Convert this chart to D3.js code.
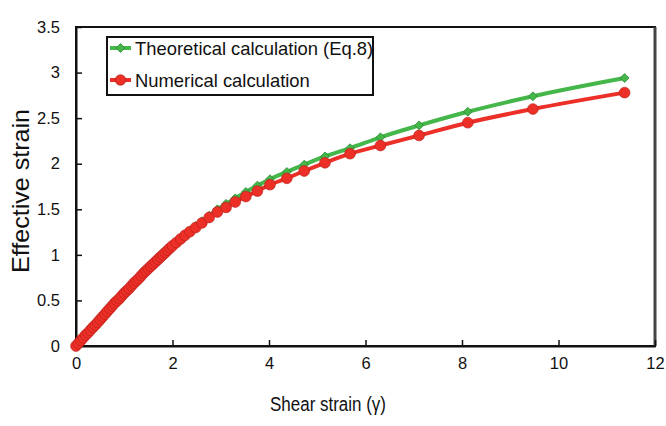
<!DOCTYPE html>
<html>
<head>
<meta charset="utf-8">
<script src="https://cdn.jsdelivr.net/npm/d3@7/dist/d3.min.js"></script>
<style>
  html, body { margin: 0; padding: 0; background: #fff; }
  svg { display: block; }
  text { font-family: "Liberation Sans", Arial, Helvetica, sans-serif; fill: #111; }
</style>
</head>
<body>
<svg id="chart" width="666" height="426"></svg>
<script>
// ---- data ----
const shearStrain = [0, 0.05, 0.1, 0.15, 0.2, 0.25, 0.3, 0.35, 0.4, 0.45, 0.5, 0.55, 0.6, 0.65, 0.7,
  0.75, 0.8, 0.85, 0.9, 0.95, 1.0, 1.05, 1.1, 1.15, 1.2, 1.25, 1.3, 1.35, 1.4, 1.45, 1.5, 1.55,
  1.6, 1.65, 1.7, 1.75, 1.8, 1.85, 1.9, 1.95, 2.0, 2.08, 2.17, 2.26, 2.36, 2.48, 2.61, 2.76, 2.93,
  3.11, 3.30, 3.52, 3.76, 4.02, 4.37, 4.73, 5.16, 5.68, 6.31, 7.11, 8.12, 9.47, 11.37];
const theoretical = [0, 0.03, 0.06, 0.09, 0.12, 0.145, 0.175, 0.205, 0.23, 0.26, 0.29, 0.32, 0.35,
  0.38, 0.41, 0.44, 0.47, 0.495, 0.52, 0.55, 0.58, 0.605, 0.63, 0.66, 0.69, 0.715, 0.74, 0.77, 0.80,
  0.825, 0.85, 0.875, 0.90, 0.925, 0.95, 0.975, 1.00, 1.025, 1.05, 1.08, 1.105, 1.14, 1.18, 1.22,
  1.265, 1.315, 1.37, 1.43, 1.50, 1.56, 1.62, 1.69, 1.76, 1.83, 1.91, 1.99, 2.08, 2.17, 2.29, 2.42,
  2.57, 2.74, 2.94];
const numerical = [0, 0.03, 0.06, 0.09, 0.12, 0.145, 0.175, 0.205, 0.23, 0.26, 0.29, 0.32, 0.35,
  0.38, 0.41, 0.44, 0.47, 0.495, 0.52, 0.55, 0.58, 0.605, 0.63, 0.66, 0.69, 0.715, 0.74, 0.77, 0.80,
  0.825, 0.85, 0.875, 0.90, 0.925, 0.95, 0.975, 1.00, 1.025, 1.05, 1.075, 1.10, 1.135, 1.175, 1.215,
  1.255, 1.30, 1.35, 1.41, 1.47, 1.52, 1.58, 1.64, 1.70, 1.77, 1.84, 1.92, 2.01, 2.11, 2.20, 2.31,
  2.45, 2.60, 2.78];
const xTicks = [0, 2, 4, 6, 8, 10, 12];
const yTicks = [0, 0.5, 1, 1.5, 2, 2.5, 3, 3.5];
const seriesNames = ["Theoretical calculation (Eq.8)", "Numerical calculation"];
const xTitle = "Shear strain (\u03b3)";
const yTitle = "Effective strain";

// ---- layout ----
const L = 76, R = 655, T = 27, B = 346;
const svg = d3.select("#chart");
const x = d3.scaleLinear().domain([0, 12]).range([L, R]);
const y = d3.scaleLinear().domain([0, 3.5]).range([B, T]);

const green = "#45b649", greenDark = "#2a8a33";
const red = "#ec2f27", redDark = "#b51f1a";

// plot frame
svg.append("rect").attr("x", L).attr("y", T).attr("width", R - L).attr("height", B - T)
  .attr("fill", "#fff").attr("stroke", "#111").attr("stroke-width", 2);
svg.append("line").attr("x1", R).attr("x2", R).attr("y1", T).attr("y2", B)
  .attr("stroke", "#444").attr("stroke-width", 3);

// axes
const xAxis = d3.axisBottom(x).tickValues(xTicks).tickSizeInner(-6).tickSizeOuter(0).tickPadding(11)
  .tickFormat(d3.format("d"));
const gx = svg.append("g").attr("transform", `translate(0,${B})`).call(xAxis);
gx.select(".domain").attr("stroke", "#111").attr("stroke-width", 2);
gx.selectAll(".tick line").attr("stroke", "#111").attr("stroke-width", 1.5);
gx.selectAll(".tick text").attr("font-size", 16.5).attr("font-family", "Liberation Sans, Arial, sans-serif").attr("fill", "#111");

const yAxis = d3.axisLeft(y).tickValues(yTicks).tickSizeInner(-6).tickSizeOuter(0).tickPadding(16)
  .tickFormat(d => String(d));
const gy = svg.append("g").attr("transform", `translate(${L},0)`).call(yAxis);
gy.select(".domain").attr("stroke", "#111").attr("stroke-width", 2);
gy.selectAll(".tick line").attr("stroke", "#111").attr("stroke-width", 1.5);
gy.selectAll(".tick text").attr("font-size", 16.5).attr("font-family", "Liberation Sans, Arial, sans-serif").attr("fill", "#111");

// titles
svg.append("text").attr("x", 328).attr("y", 411).attr("text-anchor", "middle")
  .attr("font-size", 20).attr("textLength", 116).attr("lengthAdjust", "spacingAndGlyphs")
  .text(xTitle);
svg.append("text").attr("transform", "translate(29,191) rotate(-90)").attr("text-anchor", "middle")
  .attr("font-size", 24).attr("textLength", 164).attr("lengthAdjust", "spacingAndGlyphs")
  .text(yTitle);

// series
const line = d3.line().x(d => x(d[0])).y(d => y(d[1])).curve(d3.curveMonotoneX);
const gData = shearStrain.map((g, i) => [g, theoretical[i]]);
const rData = shearStrain.map((g, i) => [g, numerical[i]]);
const diamond = d3.symbol().type(d3.symbolDiamond2).size(50);

const plot = svg.append("g");
plot.append("path").datum(gData).attr("d", line).attr("fill", "none")
  .attr("stroke", green).attr("stroke-width", 4);
plot.selectAll(".gpt").data(gData).enter().append("path").attr("class", "gpt")
  .attr("d", diamond).attr("transform", d => `translate(${x(d[0])},${y(d[1])})`)
  .attr("fill", green).attr("stroke", greenDark).attr("stroke-width", 0.8);
plot.append("path").datum(rData).attr("d", line).attr("fill", "none")
  .attr("stroke", red).attr("stroke-width", 4);
plot.selectAll(".rpt").data(rData).enter().append("circle").attr("class", "rpt")
  .attr("cx", d => x(d[0])).attr("cy", d => y(d[1])).attr("r", 5.4)
  .attr("fill", red).attr("stroke", redDark).attr("stroke-width", 0.6);

// legend
const lg = svg.append("g");
lg.append("rect").attr("x", 107).attr("y", 37).attr("width", 266).attr("height", 58)
  .attr("fill", "#fff").attr("stroke", "#111").attr("stroke-width", 2);
const rows = [{name: seriesNames[0], c: green, cd: greenDark, sym: "d", yy: 48},
              {name: seriesNames[1], c: red, cd: redDark, sym: "c", yy: 80}];
rows.forEach(r => {
  lg.append("line").attr("x1", 110).attr("x2", 131).attr("y1", r.yy).attr("y2", r.yy)
    .attr("stroke", r.c).attr("stroke-width", 4);
  if (r.sym === "d") {
    lg.append("path").attr("d", diamond).attr("transform", `translate(120.5,${r.yy})`)
      .attr("fill", r.c).attr("stroke", r.cd).attr("stroke-width", 0.8);
  } else {
    lg.append("circle").attr("cx", 120.5).attr("cy", r.yy).attr("r", 5.2)
      .attr("fill", r.c).attr("stroke", r.cd).attr("stroke-width", 0.8);
  }
  lg.append("text").attr("x", 135).attr("y", r.yy + 6.5).attr("font-size", 18.4).text(r.name);
});
</script>
</body>
</html>
